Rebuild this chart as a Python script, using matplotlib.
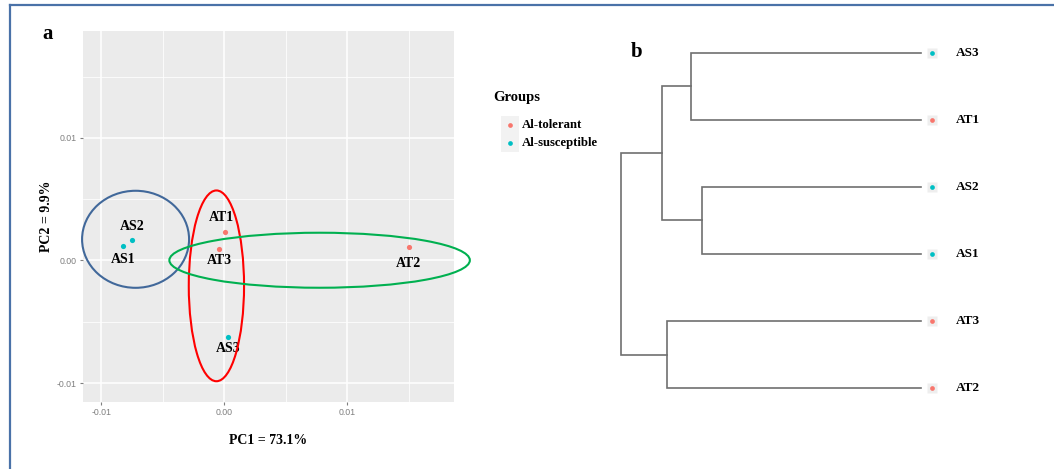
import matplotlib
matplotlib.use("Agg")
import matplotlib.pyplot as plt
import matplotlib.transforms as mtransforms
from matplotlib.patches import Ellipse, Rectangle
from matplotlib.lines import Line2D

# PCA scores
samples = ["AS1", "AS2", "AS3", "AT1", "AT2", "AT3"]
pc1 = [-0.00824, -0.00748, 0.00029, 0.00004, 0.0150, -0.00039]
pc2 = [0.00117, 0.00171, -0.00626, 0.00229, 0.00109, 0.00092]
groups = ["Al-susceptible", "Al-susceptible", "Al-susceptible",
          "Al-tolerant", "Al-tolerant", "Al-tolerant"]

# hand-drawn ellipses (centre x, centre y, width, height)
ell_centers = [(-0.00722, 0.00173), (-0.00064, -0.00207), (0.00776, 0.00002)]
ell_sizes = [(0.00871, 0.00792), (0.0045, 0.01557), (0.02446, 0.00449)]
ell_colors = ["#41689a", "#ff0000", "#00b050"]

# dendrogram: leaf order (top to bottom) and merge heights
leaf_order = ["AS3", "AT1", "AS2", "AS1", "AT3", "AT2"]
leaf_group = ["Al-susceptible", "Al-tolerant", "Al-susceptible",
              "Al-susceptible", "Al-tolerant", "Al-tolerant"]
# merges: (left child, right child, height); children are leaf names or merge ids
merges = [("AS3", "AT1", 0.766),
          ("AS2", "AS1", 0.730),
          ("AT3", "AT2", 0.848),
          (0, 1, 0.863),
          (3, 2, 1.0)]

colors = {"Al-tolerant": "#f8766d", "Al-susceptible": "#00bfc4"}
serif = "Liberation Serif"

fig = plt.figure(figsize=(10.54, 4.69), dpi=100)
W, H = 1054, 469


def px_box(x0, y0, x1, y1):
    return [x0 / W, (H - y1) / H, (x1 - x0) / W, (y1 - y0) / H]


# ---- panel a ----
ax = fig.add_axes(px_box(83, 31, 454, 402))
ax.set_facecolor("#ebebeb")
ax.set_xlim(-0.0115, 0.0187)
ax.set_ylim(-0.01155, 0.01873)
ax.set_xticks([-0.01, 0.0, 0.01])
ax.set_xticklabels(["-0.01", "0.00", "0.01"])
ax.set_yticks([-0.01, 0.0, 0.01])
ax.set_yticklabels(["-0.01", "0.00", "0.01"])
ax.set_xticks([-0.005, 0.005, 0.015], minor=True)
ax.set_yticks([-0.005, 0.005, 0.015], minor=True)
ax.grid(True, which="major", color="white", lw=1.1)
ax.grid(True, which="minor", color="white", lw=0.55)
ax.set_axisbelow(True)
for s in ax.spines.values():
    s.set_visible(False)
ax.tick_params(which="major", length=2.5, color="#7f7f7f", labelsize=6.3,
               labelcolor="#7f7f7f", pad=2)
ax.tick_params(which="minor", length=0)
for lab in ax.get_xticklabels() + ax.get_yticklabels():
    lab.set_family("Liberation Sans")

for x, y, g in zip(pc1, pc2, groups):
    ax.scatter(x, y, s=14, color=colors[g], zorder=3, linewidths=0)

# label offsets from the point, in pixels
label_offsets = {"AS1": (0, -13), "AS2": (0, 13), "AS3": (0, -11),
                 "AT1": (-3, 15), "AT2": (0, -16), "AT3": (0, -11)}
for name, x, y in zip(samples, pc1, pc2):
    dx, dy = label_offsets[name]
    ax.annotate(name, (x, y), xytext=(dx * 0.72, dy * 0.72),
                textcoords="offset points", ha="center", va="center",
                family=serif, weight="bold", fontsize=10, zorder=4)

for (cx, cy), (w, h), c in zip(ell_centers, ell_sizes, ell_colors):
    ax.add_patch(Ellipse((cx, cy), w, h, fill=False, edgecolor=c, lw=1.5,
                         clip_on=False, zorder=5))

ax.set_xlabel("PC1 = 73.1%", family=serif, weight="bold", fontsize=10,
              labelpad=12)
ax.set_ylabel("PC2 = 9.9%", family=serif, weight="bold", fontsize=10,
              labelpad=3)
fig.text(48 / W, 1 - 34 / H, "a", family=serif, weight="bold", fontsize=15,
         ha="center", va="center")

# ---- legend ----
fig.text(493 / W, 1 - 97 / H, "Groups", family=serif, weight="bold",
         fontsize=10.5, ha="left", va="center")
fig.add_artist(Rectangle((501 / W, 1 - 152 / H), 17.5 / W, 36 / H,
                         transform=fig.transFigure, color="#f2f2f2", lw=0))
for i, g in enumerate(["Al-tolerant", "Al-susceptible"]):
    yy = 1 - (125 + 18 * i) / H
    fig.add_artist(Line2D([509.5 / W], [yy], marker="o", ms=3.4, color=colors[g],
                          mec="none", transform=fig.transFigure))
    fig.text(522 / W, yy, g, family=serif, weight="bold", fontsize=9.2,
             ha="left", va="center")

# ---- panel b: dendrogram ----
axd = fig.add_axes(px_box(621.3, 52.7, 920.7, 388.3))
axd.set_xlim(1.0, 0.0)
axd.set_ylim(len(leaf_order) - 1, 0)
axd.axis("off")

pos = {name: (0.0, i) for i, name in enumerate(leaf_order)}
for k, (a, b, h) in enumerate(merges):
    xa, ya = pos[a]
    xb, yb = pos[b]
    axd.plot([xa, h, h, xb], [ya, ya, yb, yb], color="#707070", lw=1.2,
             clip_on=False, solid_joinstyle="miter")
    pos[k] = (h, (ya + yb) / 2)

shift = axd.transData + mtransforms.ScaledTranslation(11.5 / 100, 0,
                                                      fig.dpi_scale_trans)
for i, (name, g) in enumerate(zip(leaf_order, leaf_group)):
    axd.plot([0], [i], marker="s", ms=7.5, color="#eeeeee", mec="none",
             clip_on=False, transform=shift)
    axd.plot([0], [i], marker="o", ms=3.4, color=colors[g], mec="none",
             clip_on=False, transform=shift)
    axd.annotate(name, (0, i), xytext=(35 * 0.72, 0), textcoords="offset points",
                 ha="left", va="center", family=serif, weight="bold",
                 fontsize=9.5)

fig.text(637 / W, 1 - 52 / H, "b", family=serif, weight="bold", fontsize=15,
         ha="center", va="center")

# ---- frame lines ----
fig.add_artist(Line2D([9.5 / W, 1], [1 - 5.5 / H, 1 - 5.5 / H], color="#4a72a8",
                      lw=1.6, transform=fig.transFigure))
fig.add_artist(Line2D([9.5 / W, 9.5 / W], [0, 1 - 5.5 / H], color="#4a72a8",
                      lw=1.6, transform=fig.transFigure))

fig.savefig("out.png", dpi=100)
